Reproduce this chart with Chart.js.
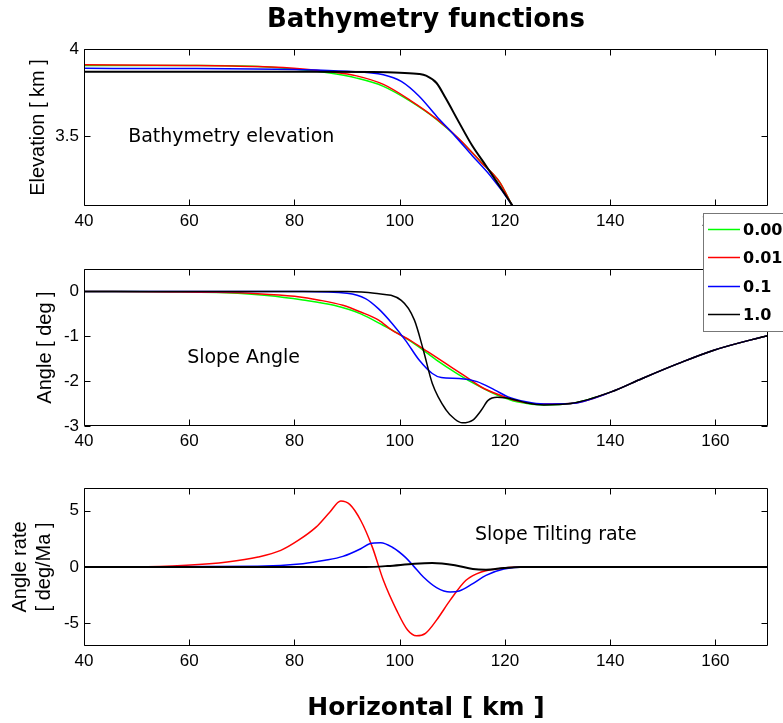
<!DOCTYPE html>
<html>
<head>
<meta charset="utf-8">
<script src="https://cdn.jsdelivr.net/npm/chart.js@4.4.0/dist/chart.umd.min.js"></script>
<style>
  body { margin: 0; background: #fff; }
  #wrap { position: relative; width: 783px; height: 723px; overflow: hidden; background: #fff; }
  canvas { position: absolute; left: 0; }
</style>
</head>
<body>
<div id="wrap">
  <canvas id="elev" width="783" height="240" style="top:0px"></canvas>
  <canvas id="angle" width="783" height="262" style="top:208px"></canvas>
  <canvas id="rate" width="783" height="253" style="top:470px"></canvas>
</div>
<script>
const seriesLabels = ['0.00', '0.01', '0.1', '1.0'];
const seriesColors = ['#00ff00', '#ff0000', '#0000ff', '#000000'];

// elevation [km]
const elevXGreen = [40, 60, 73, 81.6, 86.7, 91.8, 96.9, 102, 107, 111.3, 115.5, 119, 121.3, 123.5];
const elevGreen  = [3.906, 3.905, 3.900, 3.881, 3.862, 3.833, 3.786, 3.701, 3.597, 3.483, 3.350, 3.237, 3.108, 3.0];
const elevXRed   = [40, 60, 73, 81.6, 86.7, 91.8, 96.9, 102, 107, 111.3, 115.5, 119, 121.3, 123.5];
const elevRed    = [3.909, 3.906, 3.899, 3.886, 3.870, 3.846, 3.797, 3.706, 3.599, 3.484, 3.350, 3.237, 3.108, 3.0];
const elevXBlue  = [40, 60, 80, 90, 96.9, 100.3, 103.7, 107, 110.5, 113.8, 117.2, 121.3, 123.5];
const elevBlue   = [3.889, 3.888, 3.882, 3.872, 3.852, 3.814, 3.729, 3.615, 3.502, 3.388, 3.274, 3.108, 3.0];
const elevXBlack = [40, 80, 95, 100, 103.7, 105, 107, 108.7, 111.3, 113.8, 116.4, 118.9, 121.3, 123.5];
const elevBlack  = [3.870, 3.870, 3.868, 3.864, 3.857, 3.847, 3.805, 3.720, 3.578, 3.445, 3.331, 3.218, 3.108, 3.0];

// slope angle [deg]
const angXGreen = [40, 60, 67, 74.8, 81.6, 87.5, 92.6, 96.9, 100.3, 103.7, 107, 110.9, 114.7, 118.5, 122.3, 127.4, 132.5, 140.2, 146.1, 152.9, 159.7, 170];
const angGreen  = [0, -0.01, -0.03, -0.09, -0.19, -0.31, -0.50, -0.76, -0.98, -1.24, -1.53, -1.83, -2.09, -2.31, -2.46, -2.53, -2.50, -2.24, -1.94, -1.61, -1.31, -0.98];
const angXRed   = [40, 56.5, 64.6, 73, 80, 85, 89.2, 92.6, 96, 98.6, 102, 105.4, 108.8, 112.2, 115.5, 119, 122.3, 126.6, 132.5, 140.2, 146.1, 152.9, 159.7, 170];
const angRed    = [0, -0.01, -0.02, -0.05, -0.11, -0.20, -0.31, -0.46, -0.64, -0.87, -1.09, -1.35, -1.61, -1.87, -2.13, -2.31, -2.44, -2.51, -2.50, -2.24, -1.94, -1.61, -1.31, -0.98];
const angXBlue  = [40, 81.6, 90, 93.5, 96, 98.6, 101.1, 103.7, 106.2, 107.9, 111.3, 114.7, 118.1, 120.6, 124, 127.4, 132.5, 140.2, 146.1, 152.9, 159.7, 170];
const angBlue   = [0, 0, -0.04, -0.16, -0.39, -0.72, -1.09, -1.53, -1.83, -1.92, -1.94, -2.01, -2.20, -2.35, -2.46, -2.51, -2.50, -2.24, -1.94, -1.61, -1.31, -0.98];
const angXBlack = [40, 90, 95.2, 100.3, 102.8, 104.5, 106.2, 108.8, 110.5, 111.9, 113.9, 115.5, 116.8, 118.5, 120, 122, 124, 127.4, 132.5, 140.2, 146.1, 152.9, 159.7, 170];
const angBlack  = [0, 0, -0.04, -0.20, -0.64, -1.31, -2.05, -2.64, -2.85, -2.93, -2.87, -2.65, -2.43, -2.36, -2.37, -2.42, -2.48, -2.53, -2.50, -2.24, -1.94, -1.61, -1.31, -0.98];

// slope tilting rate [deg/Ma] (no green curve shows in this panel)
const rateXGreen = [];
const rateGreen  = [];
const rateXRed   = [40, 50, 59.5, 67.2, 73.1, 77.4, 80.7, 84.1, 86.7, 88.8, 90.5, 92.6, 94.8, 96.9, 99.4, 101.5, 103.2, 104.9, 107, 109.6, 112.6, 115.5, 119.8, 124, 170];
const rateRed    = [0, 0, 0.15, 0.44, 0.88, 1.47, 2.35, 3.53, 4.85, 5.85, 5.55, 4.12, 1.76, -1.18, -3.82, -5.59, -6.10, -5.88, -4.71, -2.94, -1.18, -0.44, -0.09, 0, 0];
const rateXBlue  = [40, 73, 81.6, 85.8, 89.2, 92.6, 94.3, 96.4, 98.6, 101.1, 102.6, 104.5, 107, 109.6, 111.3, 113.9, 116.4, 119.8, 124, 170];
const rateBlue   = [0, 0.06, 0.29, 0.59, 0.94, 1.62, 2.06, 2.15, 1.75, 0.85, 0.1, -0.88, -1.82, -2.21, -2.12, -1.47, -0.74, -0.18, 0, 0];
const rateXBlack = [40, 93.5, 97.7, 102.8, 106.2, 110.5, 113.9, 116.4, 119.8, 123, 170];
const rateBlack  = [0, 0, 0.09, 0.29, 0.35, 0.15, -0.18, -0.24, -0.09, 0, 0];

const tickFont = { family: "'Liberation Sans', Arial, sans-serif", size: 17 };
const labelFont = { family: "'Liberation Sans', Arial, sans-serif", size: 20 };
const noteFont = "19px 'DejaVu Sans', sans-serif";

function pts(xs, ys) {
  return xs.map((x, i) => ({ x: x, y: ys[i] }));
}

function makeSets(xsList, ysList, blackWidth) {
  return xsList.map((xs, i) => ({
    label: seriesLabels[i],
    data: pts(xs, ysList[i]),
    borderColor: seriesColors[i],
    borderWidth: i === 3 ? blackWidth : 1.5,
    pointRadius: 0,
    fill: false,
    cubicInterpolationMode: 'monotone',
    order: 3 - i   // black on top, like the original
  }));
}

// box round the plot + inward ticks on all four sides
const frame = {
  id: 'frame',
  afterDatasetsDraw(chart) {
    const { ctx, chartArea: a, scales } = chart;
    const L = Math.round(a.left) + 0.5, R = Math.round(a.right) - 0.5;
    const T = Math.round(a.top) + 0.5, B = Math.round(a.bottom) - 0.5;
    ctx.save();
    ctx.strokeStyle = '#000';
    ctx.lineWidth = 1;
    ctx.beginPath();
    ctx.rect(L, T, R - L, B - T);
    scales.x.ticks.forEach(t => {
      const px = Math.round(scales.x.getPixelForValue(t.value)) + 0.5;
      ctx.moveTo(px, T); ctx.lineTo(px, T + 6);
      ctx.moveTo(px, B); ctx.lineTo(px, B - 6);
    });
    scales.y.ticks.forEach(t => {
      const py = Math.round(scales.y.getPixelForValue(t.value)) + 0.5;
      ctx.moveTo(L, py); ctx.lineTo(L + 6, py);
      ctx.moveTo(R, py); ctx.lineTo(R - 6, py);
    });
    ctx.stroke();
    ctx.restore();
  }
};

// free text inside / above the plot
const notes = {
  id: 'notes',
  afterDraw(chart, args, opts) {
    const { ctx, scales, chartArea: a } = chart;
    ctx.save();
    ctx.fillStyle = '#000';
    ctx.textBaseline = 'alphabetic';
    (opts.items || []).forEach(n => {
      ctx.font = n.font || noteFont;
      ctx.textAlign = n.align || 'left';
      const px = n.x === 'center' ? (a.left + a.right) / 2 : scales.x.getPixelForValue(n.x);
      const py = n.py !== undefined ? n.py : scales.y.getPixelForValue(n.y);
      ctx.fillText(n.text, px, py);
    });
    ctx.restore();
  }
};

// legend box, matlab style
const boxLegend = {
  id: 'boxLegend',
  afterDraw(chart, args, o) {
    if (!o.show) return;
    const ctx = chart.ctx;
    ctx.save();
    ctx.fillStyle = '#fff';
    ctx.fillRect(o.left, o.top, o.width, o.height);
    ctx.strokeStyle = '#777';
    ctx.lineWidth = 1;
    ctx.strokeRect(o.left + 0.5, o.top + 0.5, o.width, o.height);
    ctx.font = "bold 16px 'DejaVu Sans', sans-serif";
    ctx.textBaseline = 'middle';
    ctx.textAlign = 'left';
    chart.data.datasets.forEach((ds, i) => {
      const y = Math.round(o.top + o.first + i * o.step) + 0.5;
      ctx.strokeStyle = ds.borderColor;
      ctx.lineWidth = 1.5;
      ctx.beginPath();
      ctx.moveTo(o.left + 5, y);
      ctx.lineTo(o.left + 37, y);
      ctx.stroke();
      ctx.fillStyle = '#000';
      ctx.fillText(ds.label, o.left + 40, y + 1);
    });
    ctx.restore();
  }
};

function panel(id, sets, y, cfg) {
  return new Chart(document.getElementById(id), {
    type: 'line',
    data: { datasets: sets },
    plugins: [frame, notes, boxLegend],
    options: {
      responsive: false,
      animation: false,
      events: [],
      layout: { padding: { top: cfg.padTop, right: 15, left: 0, bottom: 0 } },
      plugins: {
        legend: { display: false },
        tooltip: { enabled: false },
        notes: { items: cfg.notes },
        boxLegend: cfg.legend || { show: false }
      },
      scales: {
        x: {
          type: 'linear',
          min: 40,
          max: 170,
          grid: { display: false, drawTicks: false },
          border: { display: false },
          ticks: { stepSize: 20, includeBounds: false, font: tickFont, color: '#000', padding: 5, maxRotation: 0 },
          title: cfg.xTitle || { display: false },
          afterFit: s => { s.height = cfg.xHeight; }
        },
        y: {
          type: 'linear',
          min: y.min,
          max: y.max,
          grid: { display: false, drawTicks: false },
          border: { display: false },
          ticks: { stepSize: y.step, includeBounds: false, font: tickFont, color: '#000', padding: 5,
                   callback: v => String(v) },
          title: { display: true, text: y.title, font: labelFont, color: '#000',
                   padding: { top: y.titlePad, bottom: 0 }, lineHeight: y.lineHeight || 1.2 },
          afterFit: s => { s.width = 84; }
        }
      }
    }
  });
}

panel('elev',
  makeSets([elevXGreen, elevXRed, elevXBlue, elevXBlack], [elevGreen, elevRed, elevBlue, elevBlack], 2),
  { min: 3.1, max: 4, step: 0.5, title: 'Elevation [ km ]', titlePad: 26 },
  {
    padTop: 49, xHeight: 34,
    notes: [
      { text: 'Bathymetry functions', x: 'center', py: 27, align: 'center', font: "bold 26px 'DejaVu Sans', sans-serif" },
      { text: 'Bathymetry elevation', x: 48.4, y: 3.466 }
    ]
  });

panel('angle',
  makeSets([angXGreen, angXRed, angXBlue, angXBlack], [angGreen, angRed, angBlue, angBlack], 1.5),
  { min: -3, max: 0.5, step: 1, title: 'Angle [ deg ]', titlePad: 33 },
  {
    padTop: 61, xHeight: 44,
    notes: [{ text: 'Slope Angle', x: 59.6, y: -1.6 }],
    legend: { show: true, left: 703, top: 5, width: 90, height: 118, first: 15.5, step: 28.5 }
  });

panel('rate',
  makeSets([rateXGreen, rateXRed, rateXBlue, rateXBlack], [rateGreen, rateRed, rateBlue, rateBlack], 2),
  { min: -7, max: 7, step: 5, title: ['Angle rate', '[ deg/Ma ]'], titlePad: 8.5, lineHeight: 1.25 },
  {
    padTop: 18, xHeight: 77,
    notes: [{ text: 'Slope Tilting rate', x: 114.3, y: 2.39 }],
    xTitle: { display: true, text: 'Horizontal [ km ]', color: '#000',
              font: { family: "'DejaVu Sans', sans-serif", size: 25, weight: 'bold' },
              padding: { top: 0, bottom: 0 } }
  });
</script>
</body>
</html>
